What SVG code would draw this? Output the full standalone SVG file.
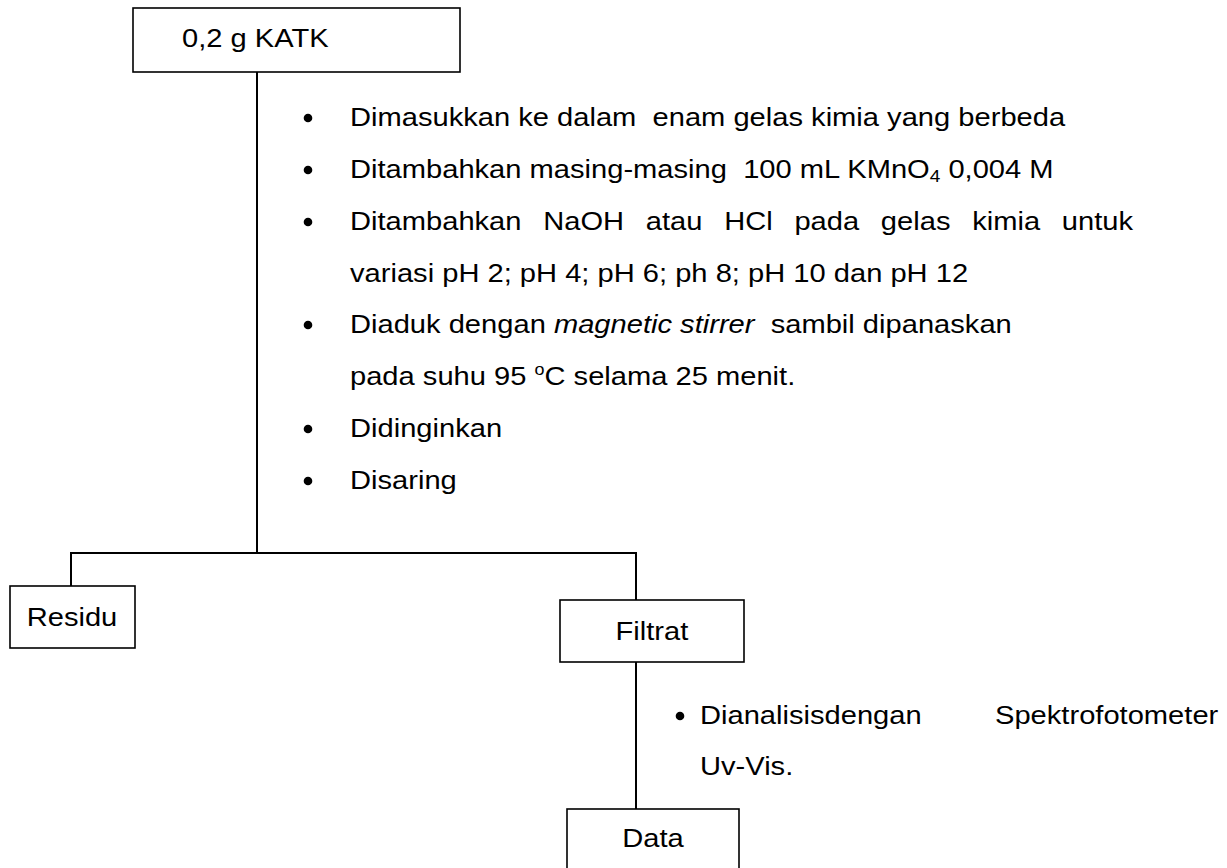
<svg xmlns="http://www.w3.org/2000/svg" width="1227" height="868" viewBox="0 0 1227 868">
<style>
.box{fill:#fff;stroke:#000;stroke-width:1.6}
.ln{stroke:#000;stroke-width:2;fill:none}
.t{font-family:"Liberation Sans",Arial,sans-serif;font-size:26px;fill:#000}
.b{fill:#000}
</style>
<rect width="1227" height="868" fill="#fff"/>
<g id="connectors">
<line class="ln" x1="257" y1="72" x2="257" y2="553"/>
<line class="ln" x1="70" y1="553" x2="637" y2="553"/>
<line class="ln" x1="71" y1="552" x2="71" y2="586"/>
<line class="ln" x1="636" y1="552" x2="636" y2="600"/>
<line class="ln" x1="636" y1="662" x2="636" y2="809"/>
</g>
<g id="node-katk">
<rect class="box" x="133" y="8" width="327" height="64"/>
<text class="t" transform="scale(1.12,1)" x="162.5" y="47">0,2 g KATK</text>
</g>
<g id="steps1">
<circle class="b" cx="308" cy="118" r="4.3"/>
<circle class="b" cx="308" cy="170" r="4.3"/>
<circle class="b" cx="308" cy="222" r="4.3"/>
<circle class="b" cx="308" cy="325" r="4.3"/>
<circle class="b" cx="308" cy="429" r="4.3"/>
<circle class="b" cx="308" cy="481" r="4.3"/>
<g transform="scale(1.12,1)">
<text class="t" x="312.5" y="126" xml:space="preserve">Dimasukkan ke dalam  enam gelas kimia yang berbeda</text>
<text class="t" x="312.5" y="178" xml:space="preserve">Ditambahkan masing-masing  100 mL KMnO<tspan font-size="17" dy="4">4</tspan><tspan dy="-4"> 0,004 M</tspan></text>
<text class="t" y="230"><tspan x="312.5">Ditambahkan</tspan><tspan x="485">NaOH</tspan><tspan x="576.6">atau</tspan><tspan x="646.6">HCl</tspan><tspan x="709.3">pada</tspan><tspan x="786.5">gelas</tspan><tspan x="868">kimia</tspan><tspan x="948">untuk</tspan></text>
<text class="t" x="312.5" y="282">variasi pH 2; pH 4; pH 6; ph 8; pH 10 dan pH 12</text>
<text class="t" x="312.5" y="333" xml:space="preserve">Diaduk dengan <tspan font-style="italic">magnetic stirrer</tspan>  sambil dipanaskan</text>
<text class="t" x="312.5" y="385">pada suhu 95 <tspan font-size="16" dy="-10">o</tspan><tspan dy="10">C selama 25 menit.</tspan></text>
<text class="t" x="312.5" y="437">Didinginkan</text>
<text class="t" x="312.5" y="489">Disaring</text>
</g>
</g>
<g id="node-residu">
<rect class="box" x="10" y="586" width="125" height="62"/>
<text class="t" transform="scale(1.12,1)" x="64.3" y="626" text-anchor="middle">Residu</text>
</g>
<g id="node-filtrat">
<rect class="box" x="560" y="600" width="184" height="62"/>
<text class="t" transform="scale(1.12,1)" x="582.1" y="640" text-anchor="middle">Filtrat</text>
</g>
<g id="steps2">
<circle class="b" cx="680" cy="716" r="4.3"/>
<g transform="scale(1.12,1)">
<text class="t" y="724"><tspan x="625">Dianalisisdengan</tspan><tspan x="888.4">Spektrofotometer</tspan></text>
<text class="t" x="625" y="775">Uv-Vis.</text>
</g>
</g>
<g id="node-data">
<rect class="box" x="567" y="809" width="172" height="70"/>
<text class="t" transform="scale(1.12,1)" x="583" y="847" text-anchor="middle">Data</text>
</g>
</svg>
